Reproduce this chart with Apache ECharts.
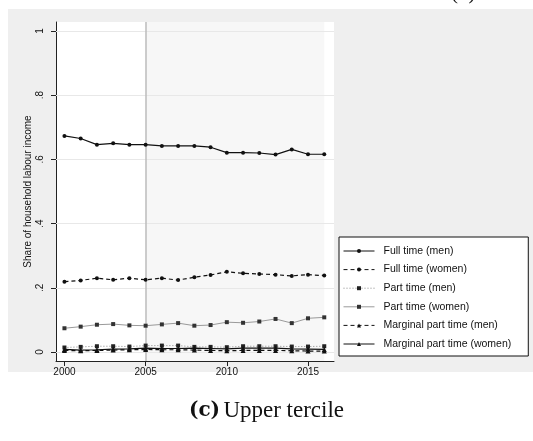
<!DOCTYPE html>
<html><head><meta charset="utf-8">
<script src="https://cdn.jsdelivr.net/npm/echarts@6/dist/echarts.min.js"></script>
<style>html,body{margin:0;padding:0;background:#fff}#c{width:533px;height:441px}</style>
</head><body><div id="c"></div>
<script>
const years = [2000,2001,2002,2003,2004,2005,2006,2007,2008,2009,2010,2011,2012,2013,2014,2015,2016];
const fullMen = [0.673,0.665,0.646,0.650,0.646,0.646,0.642,0.642,0.642,0.638,0.621,0.621,0.620,0.615,0.631,0.616,0.616];
const fullWomen = [0.219,0.223,0.230,0.225,0.230,0.225,0.230,0.224,0.233,0.240,0.250,0.245,0.243,0.241,0.237,0.241,0.238];
const partMen = [0.014,0.016,0.018,0.018,0.017,0.020,0.020,0.020,0.016,0.016,0.015,0.018,0.018,0.018,0.017,0.017,0.018];
const partWomen = [0.074,0.079,0.085,0.087,0.083,0.082,0.086,0.090,0.082,0.084,0.093,0.091,0.095,0.103,0.090,0.105,0.108];
const margMen = [0.005,0.004,0.005,0.006,0.007,0.008,0.007,0.007,0.006,0.005,0.004,0.005,0.005,0.005,0.004,0.003,0.003];
const margWomen = [0.008,0.006,0.007,0.009,0.010,0.012,0.011,0.011,0.012,0.011,0.010,0.012,0.012,0.012,0.010,0.009,0.008];
const yTicks = [0,0.2,0.4,0.6,0.8,1];
const xTicks = [2000,2005,2010,2015];
const names = ['Full time (men)','Full time (women)','Part time (men)','Part time (women)','Marginal part time (men)','Marginal part time (women)'];

const pairs = a => years.map((y,i)=>[y,a[i]]);
const fmtY = v => v===0?'0':(v===1?'1':String(v).replace(/^0/,''));

function mk(name, data, color, type, width, symbol, size, symColor, extra){
  return Object.assign({
    name, type:'line', data:pairs(data), symbol, symbolSize:size, showSymbol:true,
    lineStyle:{color, width, type}, itemStyle:{color:symColor||color, borderWidth:0},
    z:5, animation:false
  }, extra||{});
}

const chart = echarts.init(document.getElementById('c'));
chart.setOption({
  backgroundColor:'#ffffff',
  animation:false,
  textStyle:{fontFamily:'Liberation Sans, Arial, sans-serif'},
  graphic:[
    {type:'rect', shape:{x:8,y:9,width:525,height:363}, style:{fill:'#efefef'}, z:-10, silent:true},
    {type:'text', left:'center', top:399, style:{
      text:'{b|(c)} {n|Upper tercile}',
      rich:{b:{fontFamily:'DejaVu Serif, Liberation Serif, serif', fontWeight:'bold', fontSize:20, fill:'#111'},
            n:{fontFamily:'Liberation Serif, DejaVu Serif, serif', fontSize:23, fill:'#111'}}
    }},
    {type:'text', x:451, y:-17, style:{text:'(b)', fontFamily:'Liberation Serif, serif', fontSize:21, fill:'#111'}}
  ],
  grid:{left:56, top:22, right:199, bottom:80, show:true, backgroundColor:'#ffffff', borderWidth:0},
  xAxis:{type:'value', min:1999.48, max:2016.6,
    axisLine:{show:true, onZero:false, lineStyle:{color:'#222', width:1}},
    axisTick:{show:true, length:5, customValues:xTicks, lineStyle:{color:'#222'}},
    axisLabel:{customValues:xTicks, color:'#111', fontSize:10, margin:6, formatter:v=>String(v)},
    splitLine:{show:false}},
  yAxis:{type:'value', min:-0.028, max:1.028,
    name:'Share of household labour income', nameLocation:'middle', nameRotate:90, nameGap:23,
    nameMoveOverlap:false,
    nameTextStyle:{color:'#111', fontSize:10},
    axisLine:{show:true, onZero:false, lineStyle:{color:'#222', width:1}},
    axisTick:{show:true, length:5, customValues:yTicks, lineStyle:{color:'#222'}},
    axisLabel:{customValues:yTicks, rotate:90, color:'#111', fontSize:10, margin:11, formatter:fmtY},
    splitLine:{show:false}},
  legend:{
    orient:'vertical', left:339, top:237,
    backgroundColor:'#fff', borderColor:'#111', borderWidth:1, borderRadius:0,
    padding:[8,17,6,4], itemWidth:31, itemHeight:5, itemGap:6.6,
    lineStyle:{width:1},
    textStyle:{fontSize:10.5, lineHeight:12, color:'#111', padding:[0,0,0,4]},
    data:names
  },
  series:[
    mk(names[0], fullMen, '#111', 'solid', 1.2, 'circle', 4, '#111', {
      markArea:{silent:true, itemStyle:{color:'#f7f7f7'}, data:[[{xAxis:2005},{xAxis:2016}]], z:1},
      markLine:{silent:true, symbol:'none', label:{show:false}, animation:false,
        data:[
          ...yTicks.map(v=>({yAxis:v, lineStyle:{color:'#e8e8e8', width:1, type:'solid'}})),
          {xAxis:2005, lineStyle:{color:'#bcbcbc', width:1.5, type:'solid'}}
        ]}
    }),
    mk(names[1], fullWomen, '#111', [4,3], 1.2, 'circle', 4, '#111'),
    mk(names[2], partMen, '#888', [1,2], 1, 'rect', 4, '#222'),
    mk(names[3], partWomen, '#9a9a9a', 'solid', 1, 'rect', 4, '#333'),
    mk(names[4], margMen, '#111', [4,3], 1.2, 'triangle', 5, '#111'),
    mk(names[5], margWomen, '#111', 'solid', 1.2, 'triangle', 5, '#111')
  ]
});
</script></body></html>
